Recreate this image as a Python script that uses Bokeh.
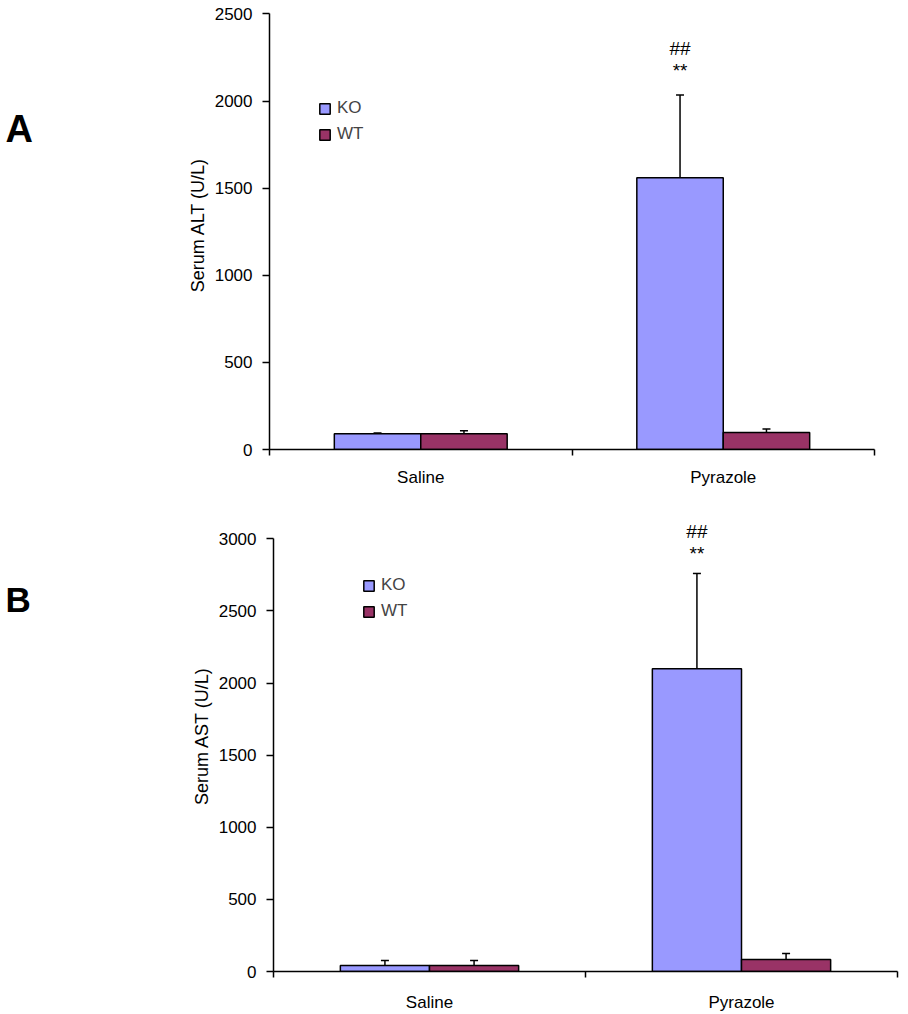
import numpy as np
from bokeh.plotting import figure
from bokeh.models import (ColumnDataSource, Range1d, FixedTicker, Whisker, TeeHead,
                          Legend, LegendItem, Label)
from bokeh.layouts import column, row
from bokeh.embed import file_html
from bokeh.resources import INLINE
from bokeh.core.properties import value

# ---------------- data ----------------
categories = ["Saline", "Pyrazole"]
series = ["KO", "WT"]

alt_ko = [90, 1560]
alt_ko_err = [5, 475]
alt_wt = [90, 97]
alt_wt_err = [17, 20]

ast_ko = [42, 2100]
ast_ko_err = [35, 660]
ast_wt = [42, 83]
ast_wt_err = [35, 42]

alt_ticks = [0, 500, 1000, 1500, 2000, 2500]
ast_ticks = [0, 500, 1000, 1500, 2000, 2500, 3000]

sig_hash = ["", "##"]
sig_star = ["", "**"]

# ---------------- style ----------------
KO_COLOR = "#9999FF"
WT_COLOR = "#993366"
FONT = "Liberation Sans"
BAR_W = 1 / 3.5
BORDER_L = 229


def letter_panel(letter, width, height, border_bottom, xy, size):
    f = figure(width=width, height=height, x_range=Range1d(0, 1), y_range=Range1d(0, 1),
               output_backend="svg", toolbar_location=None,
               min_border_left=0, min_border_right=0, min_border_top=0,
               min_border_bottom=border_bottom)
    f.axis.visible = False
    f.grid.visible = False
    f.outline_line_color = None
    f.add_layout(Label(x=xy[0], y=xy[1], x_units="screen", y_units="screen",
                       text=letter, text_font=FONT, text_font_style="bold",
                       text_font_size=size, text_baseline="alphabetic",
                       text_color="black"))
    return f


def make_panel(ko, ko_err, wt, wt_err, ticks, y_end, ylabel, legend_xy, star_off,
               hash_off, width, height, border_right, border_bottom, xlabel_standoff):
    n = len(categories)
    p = figure(width=width, height=height, x_range=Range1d(0, n),
               y_range=Range1d(0, y_end),
               output_backend="svg", toolbar_location=None,
               min_border_left=BORDER_L, min_border_right=border_right,
               min_border_top=0, min_border_bottom=border_bottom)
    p.xgrid.visible = False
    p.ygrid.visible = False
    p.outline_line_color = None
    p.background_fill_color = "white"

    centers = np.arange(n) + 0.5
    src_ko = ColumnDataSource(dict(x=centers - BAR_W / 2, top=ko,
                                   upper=np.array(ko) + np.array(ko_err),
                                   hash=sig_hash, star=sig_star))
    src_wt = ColumnDataSource(dict(x=centers + BAR_W / 2, top=wt,
                                   upper=np.array(wt) + np.array(wt_err)))

    r_ko = p.vbar(x="x", top="top", bottom=0, width=BAR_W, source=src_ko,
                  fill_color=KO_COLOR, line_color="black", line_width=1.5)
    r_wt = p.vbar(x="x", top="top", bottom=0, width=BAR_W, source=src_wt,
                  fill_color=WT_COLOR, line_color="black", line_width=1.5)

    for src in (src_ko, src_wt):
        p.add_layout(Whisker(source=src, base="x", lower="top", upper="upper",
                             line_color="black", line_width=1.5, level="overlay",
                             upper_head=TeeHead(size=8, line_width=1.5, line_color="black"),
                             lower_head=None))

    p.text(x="x", y="upper", text="star", source=src_ko, text_font=value(FONT),
           text_font_size="19px", text_align="center", text_baseline="middle",
           y_offset=star_off, text_color="black")
    p.text(x="x", y="upper", text="hash", source=src_ko, text_font=value(FONT),
           text_font_size="19px", text_align="center", text_baseline="middle",
           y_offset=hash_off, text_color="black")

    legend = Legend(items=[LegendItem(label=series[0], renderers=[r_ko]),
                           LegendItem(label=series[1], renderers=[r_wt])],
                    location=legend_xy, border_line_color=None,
                    background_fill_alpha=0, padding=0, margin=0, spacing=6,
                    glyph_width=13, glyph_height=13, label_standoff=6,
                    label_height=20, label_text_font=FONT,
                    label_text_font_size="17px", label_text_baseline="middle")
    p.add_layout(legend)

    # x axis
    xa = p.xaxis[0]
    xa.ticker = FixedTicker(ticks=list(centers), minor_ticks=list(np.arange(n + 1)))
    xa.major_label_overrides = {float(c): cat for c, cat in zip(centers, categories)}
    xa.major_tick_out = 0
    xa.major_tick_in = 0
    xa.minor_tick_out = 6
    xa.minor_tick_in = 0
    xa.minor_tick_line_width = 1.5
    xa.axis_line_width = 1.5
    xa.major_label_standoff = xlabel_standoff
    xa.major_label_text_font = FONT
    xa.major_label_text_font_size = "17px"
    xa.major_label_text_color = "black"

    # y axis
    ya = p.yaxis[0]
    ya.ticker = FixedTicker(ticks=ticks)
    ya.bounds = (0, ticks[-1])
    ya.major_tick_out = 7
    ya.major_tick_in = 0
    ya.major_tick_line_width = 1.5
    ya.axis_line_width = 1.5
    ya.major_label_standoff = 10
    ya.major_label_text_font = FONT
    ya.major_label_text_font_size = "17px"
    ya.major_label_text_color = "black"
    ya.axis_label = ylabel
    ya.axis_label_standoff = 4
    ya.axis_label_text_font = FONT
    ya.axis_label_text_font_size = "18px"
    ya.axis_label_text_font_style = "normal"
    ya.axis_label_text_color = "black"
    return p


# top panel: frame x 269..874, y 0..449
p1 = make_panel(alt_ko, alt_ko_err, alt_wt, alt_wt_err, alt_ticks, 2577,
                "Serum ALT (U/L)", (49, 305), -24, -46,
                width=868, height=500, border_right=34, border_bottom=51,
                xlabel_standoff=12)
a1 = letter_panel("A", 40, 500, 51, (5, 321), "38px")

# bottom panel: frame x 273..897, y 500..973
p2 = make_panel(ast_ko, ast_ko_err, ast_wt, ast_wt_err, ast_ticks, 3266,
                "Serum AST (U/L)", (89, 350), -20, -42,
                width=864, height=514, border_right=11, border_bottom=41,
                xlabel_standoff=15)
a2 = letter_panel("B", 44, 514, 41, (5, 372), "35px")

layout = column(row(a1, p1, spacing=0), row(a2, p2, spacing=0), spacing=0)

with open("out.html", "w") as f:
    f.write(file_html(layout, INLINE))
